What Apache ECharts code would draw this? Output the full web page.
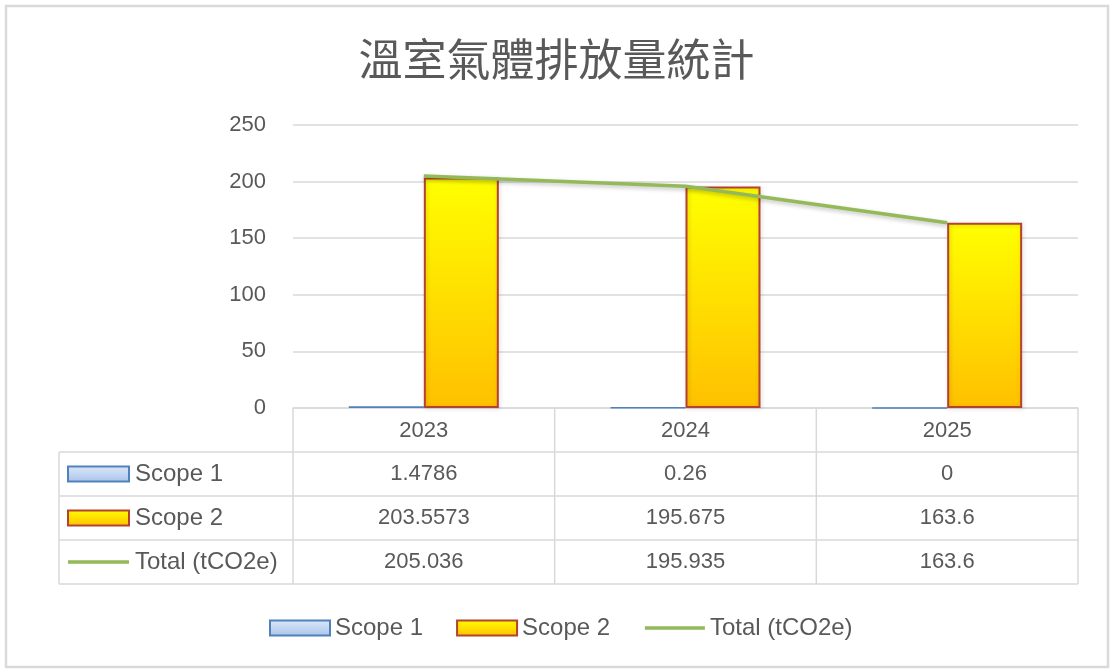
<!DOCTYPE html>
<html>
<head>
<meta charset="utf-8">
<script src="https://cdn.jsdelivr.net/npm/echarts@6/dist/echarts.min.js"></script>
<style>
  html, body { margin: 0; padding: 0; background: #fff; }
  #chart { width: 1113px; height: 671px; }
</style>
</head>
<body>
<div id="chart"></div>
<script>
// 資料
const years = ['2023', '2024', '2025'];
const scope1 = [1.4786, 0.26, 0];
const scope2 = [203.5573, 195.675, 163.6];
const total = [205.036, 195.935, 163.6];
const seriesNames = ['Scope 1', 'Scope 2', 'Total (tCO2e)'];
const yMax = 250;
const yStep = 50;

const FONT = '"Liberation Sans", Arial, sans-serif';
const TEXT_COLOR = '#595959';
const LINE_COLOR = '#d9d9d9';

const colors = {
    scope1Fill: new echarts.graphic.LinearGradient(0, 0, 0, 1, [
        { offset: 0, color: '#dde8f8' },
        { offset: 1, color: '#a9c3ea' }
    ]),
    scope1Border: '#4f81bd',
    scope2Fill: new echarts.graphic.LinearGradient(0, 0, 0, 1, [
        { offset: 0, color: '#ffff00' },
        { offset: 1, color: '#ffc000' }
    ]),
    scope2Border: '#b5412f',
    total: '#93b958'
};

const chart = echarts.init(document.getElementById('chart'), null, { renderer: 'canvas' });

const option = {
    animation: false,
    textStyle: { fontFamily: FONT },
    title: {
        text: '溫室氣體排放量統計',
        left: 'center',
        top: 32,
        textStyle: {
            fontFamily: '"Noto Sans CJK TC", "Noto Sans CJK SC", sans-serif',
            fontSize: 44,
            fontWeight: 'normal',
            color: TEXT_COLOR
        }
    },
    legend: {
        left: 264,
        top: 611,
        itemWidth: 60,
        itemHeight: 15,
        itemGap: 33,
        textStyle: { fontSize: 24, color: TEXT_COLOR, fontFamily: FONT },
        data: [
            { name: seriesNames[0], icon: 'rect' },
            { name: seriesNames[1], icon: 'rect' },
            {
                name: seriesNames[2],
                itemStyle: { opacity: 0 },
                lineStyle: { width: 3.5, color: colors.total }
            }
        ]
    },
    grid: {
        left: 293,
        right: 35,
        top: 125,
        bottom: 263,
        containLabel: false
    },
    xAxis: {
        type: 'category',
        data: years,
        axisLine: { show: true, lineStyle: { color: LINE_COLOR, width: 1.5 } },
        axisTick: { show: false },
        axisLabel: { margin: 12, fontSize: 22, color: TEXT_COLOR, fontFamily: FONT }
    },
    yAxis: {
        type: 'value',
        min: 0,
        max: yMax,
        interval: yStep,
        axisLine: { show: false },
        axisTick: { show: false },
        axisLabel: { margin: 27, fontSize: 22, color: TEXT_COLOR, fontFamily: FONT },
        splitLine: { lineStyle: { color: LINE_COLOR, width: 1.5 } }
    },
    series: [
        {
            name: seriesNames[0],
            type: 'bar',
            barWidth: 75,
            barGap: '0%',
            itemStyle: { color: colors.scope1Fill, borderColor: colors.scope1Border, borderWidth: 1.5 },
            data: scope1
        },
        {
            name: seriesNames[1],
            type: 'bar',
            barWidth: 75,
            barGap: '0%',
            itemStyle: {
                color: colors.scope2Fill,
                borderColor: colors.scope2Border,
                borderWidth: 2,
                shadowColor: 'rgba(0,0,0,0.18)',
                shadowBlur: 4,
                shadowOffsetX: 1,
                shadowOffsetY: 1
            },
            data: scope2
        },
        {
            name: seriesNames[2],
            type: 'line',
            symbol: 'none',
            z: 5,
            lineStyle: {
                color: colors.total,
                width: 3.5,
                shadowColor: 'rgba(0,0,0,0.25)',
                shadowBlur: 4,
                shadowOffsetY: 2
            },
            itemStyle: { color: colors.total },
            data: total
        }
    ]
};

chart.setOption(option);

// 資料表（依座標軸換算位置）
function buildTable() {
    const x0 = chart.convertToPixel({ xAxisIndex: 0 }, 0);
    const x1 = chart.convertToPixel({ xAxisIndex: 0 }, 1);
    const colW = x1 - x0;
    const tableLeft = 59;
    const axisY = chart.convertToPixel({ yAxisIndex: 0 }, 0);
    const rowH = 44;
    const plotLeft = x0 - colW / 2;
    const plotRight = plotLeft + colW * years.length;
    const rows = [scope1, scope2, total];
    const bottom = axisY + rowH * (rows.length + 1);

    const els = [];
    const line = (xa, ya, xb, yb) => els.push({
        type: 'line', silent: true,
        shape: { x1: xa, y1: ya, x2: xb, y2: yb },
        style: { stroke: LINE_COLOR, lineWidth: 1.5 }
    });

    // 橫線
    for (let r = 1; r <= rows.length + 1; r++) {
        line(tableLeft, axisY + rowH * r, plotRight, axisY + rowH * r);
    }
    // 直線
    line(tableLeft, axisY + rowH, tableLeft, bottom);
    for (let c = 0; c <= years.length; c++) {
        line(plotLeft + colW * c, axisY, plotLeft + colW * c, bottom);
    }

    rows.forEach((vals, r) => {
        const cy = axisY + rowH * (r + 1) + rowH / 2;
        // 圖例符號
        if (r < 2) {
            els.push({
                type: 'rect', silent: true,
                shape: { x: 68, y: cy - 7.5, width: 61, height: 15 },
                style: {
                    fill: r === 0 ? colors.scope1Fill : colors.scope2Fill,
                    stroke: r === 0 ? colors.scope1Border : colors.scope2Border,
                    lineWidth: 2
                }
            });
        } else {
            els.push({
                type: 'line', silent: true,
                shape: { x1: 68, y1: cy, x2: 129, y2: cy },
                style: { stroke: colors.total, lineWidth: 3.5 }
            });
        }
        els.push({
            type: 'text', silent: true,
            x: 135, y: cy,
            style: {
                text: seriesNames[r], fontSize: 24, fontFamily: FONT,
                fill: TEXT_COLOR, align: 'left', verticalAlign: 'middle'
            }
        });
        vals.forEach((v, c) => {
            els.push({
                type: 'text', silent: true,
                x: chart.convertToPixel({ xAxisIndex: 0 }, c), y: cy,
                style: {
                    text: String(v), fontSize: 22, fontFamily: FONT,
                    fill: TEXT_COLOR, align: 'center', verticalAlign: 'middle'
                }
            });
        });
    });

    // 外框
    els.push({
        type: 'rect', silent: true,
        shape: { x: 6, y: 6, width: 1102, height: 661 },
        style: { fill: 'none', stroke: LINE_COLOR, lineWidth: 2.5 }
    });

    chart.setOption({ graphic: els });
}

buildTable();
</script>
</body>
</html>
